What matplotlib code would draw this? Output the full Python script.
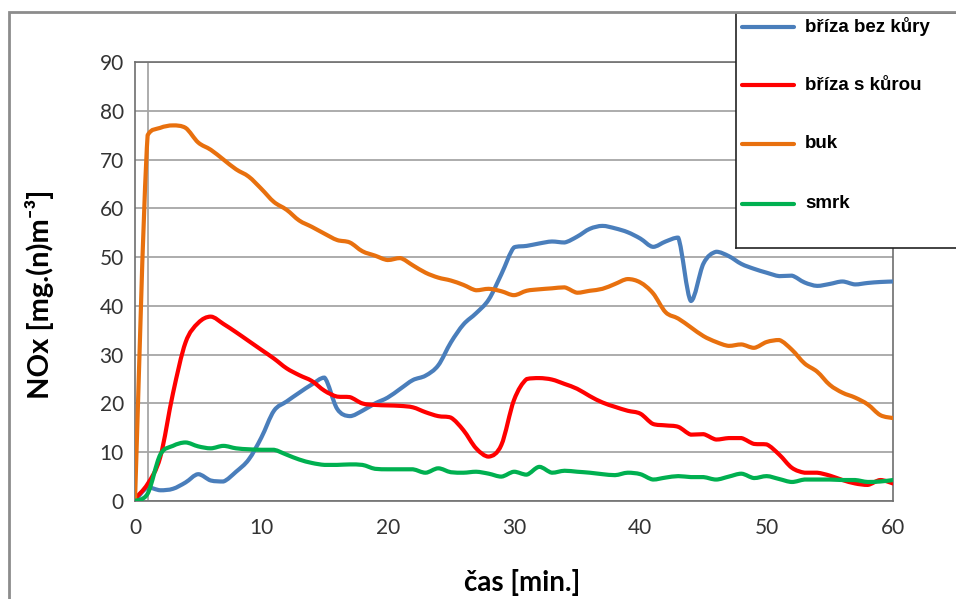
import numpy as np
import matplotlib
matplotlib.use("Agg")
import matplotlib.pyplot as plt
from matplotlib.patches import Rectangle, PathPatch
from matplotlib.path import Path
from matplotlib.lines import Line2D

# time in minutes
cas = list(range(0, 61))

briza_bez_kury = [0, 2.8, 2.2, 2.5, 3.8, 5.5, 4.2, 4.0, 6.0, 8.5,
                  13.0, 18.5, 20.4, 22.2, 23.9, 25.3, 18.9, 17.4, 18.5, 20.0,
                  21.2, 23.0, 24.8, 25.7, 27.8, 32.5, 36.2, 38.5, 41.3, 46.5,
                  52.0, 52.3, 52.8, 53.2, 53.0, 54.2, 55.8, 56.4, 55.9, 55.1,
                  53.8, 52.1, 53.2, 54.0, 41.0, 48.7, 51.1, 50.2, 48.6, 47.6,
                  46.8, 46.1, 46.2, 44.8, 44.1, 44.5, 45.0, 44.4, 44.7, 44.9,
                  45.0]
briza_s_kurou = [0.5, 3.5, 9.0, 22.0, 32.5, 36.5, 37.8, 36.3, 34.6, 32.8,
                 31.0, 29.2, 27.2, 25.8, 24.6, 22.6, 21.4, 21.3, 20.0, 19.7,
                 19.6, 19.5, 19.2, 18.2, 17.4, 17.1, 14.5, 10.8, 9.1, 11.5,
                 20.7, 25.0, 25.2, 24.9, 24.0, 23.0, 21.5, 20.2, 19.3, 18.5,
                 17.9, 15.8, 15.5, 15.2, 13.6, 13.7, 12.6, 12.9, 12.9, 11.7,
                 11.6, 9.5, 6.8, 5.8, 5.8, 5.2, 4.3, 3.6, 3.3, 4.3,
                 3.6]
buk = [0, 75.0, 76.5, 77.0, 76.5, 73.5, 72.0, 70.0, 68.0, 66.5,
       64.0, 61.3, 59.7, 57.5, 56.2, 54.8, 53.5, 53.0, 51.2, 50.3,
       49.4, 49.8, 48.3, 46.8, 45.8, 45.2, 44.3, 43.2, 43.5, 43.0,
       42.2, 43.1, 43.4, 43.6, 43.8, 42.7, 43.1, 43.5, 44.5, 45.5,
       44.8, 42.6, 38.7, 37.4, 35.6, 33.8, 32.6, 31.8, 32.1, 31.4,
       32.6, 33.0, 31.0, 28.2, 26.5, 23.8, 22.2, 21.2, 19.8, 17.6,
       17.0]
smrk = [0, 1.5, 9.5, 11.3, 12.0, 11.2, 10.8, 11.3, 10.8, 10.6,
        10.5, 10.5, 9.5, 8.5, 7.8, 7.4, 7.4, 7.5, 7.4, 6.6,
        6.5, 6.5, 6.5, 5.8, 6.7, 5.9, 5.8, 6.0, 5.6, 5.0,
        6.0, 5.4, 7.0, 5.8, 6.2, 6.0, 5.8, 5.5, 5.3, 5.8,
        5.5, 4.4, 4.8, 5.1, 4.9, 4.9, 4.4, 5.0, 5.6, 4.7,
        5.1, 4.5, 3.9, 4.4, 4.4, 4.4, 4.3, 4.3, 3.9, 4.0,
        4.3]

series = [("bříza bez kůry", briza_bez_kury, "#4A7EBB"),
          ("bříza s kůrou", briza_s_kurou, "#FF0000"),
          ("buk", buk, "#E8700E"),
          ("smrk", smrk, "#00B050")]


def smooth_path(x, y):
    # smoothed line like Excel: Bezier segments through the data points,
    # control points clamped so the curve does not overshoot
    x = np.asarray(x, float)
    y = np.asarray(y, float)
    n = len(x)
    verts = [(x[0], y[0])]
    codes = [Path.MOVETO]
    for i in range(n - 1):
        p0 = i - 1 if i > 0 else i
        p3 = i + 2 if i + 2 < n else i + 1
        lo, hi = min(y[i], y[i+1]), max(y[i], y[i+1])
        c1y = np.clip(y[i] + (y[i+1] - y[p0]) / 6, lo, hi)
        c2y = np.clip(y[i+1] - (y[p3] - y[i]) / 6, lo, hi)
        c1 = (x[i] + (x[i+1] - x[p0]) / 6, c1y)
        c2 = (x[i+1] - (x[p3] - x[i]) / 6, c2y)
        verts += [c1, c2, (x[i+1], y[i+1])]
        codes += [Path.CURVE4] * 3
    return Path(verts, codes)


plt.rcParams['font.family'] = ['Lato', 'DejaVu Sans']

fig = plt.figure(figsize=(9.56, 5.99), dpi=100)
ax = fig.add_axes([135/956, 1 - 501/599, (893-135)/956, (501-62)/599])

# outer chart border
fig.patches.append(Rectangle((9/956, -0.05), 1.1, 1 - 12/599 + 0.05,
                             transform=fig.transFigure, fill=False,
                             edgecolor="#8C8C8C", lw=2, zorder=0))

for name, vals, col in series:
    ax.add_patch(PathPatch(smooth_path(cas, vals), facecolor="none",
                           edgecolor=col, lw=3, joinstyle="round",
                           capstyle="round", zorder=3))

ax.set_xlim(0, 60)
ax.set_ylim(0, 90)
ax.set_xticks(range(0, 61, 10))
ax.set_yticks(range(0, 91, 10))
ax.yaxis.grid(True, color="#A6A6A6", lw=1.3)
ax.axvline(1, color="#A6A6A6", lw=1.3, zorder=1)
ax.set_axisbelow(True)
ax.tick_params(length=0, labelsize=15, colors="#333333", pad=8)
ax.tick_params(axis="x", pad=12)
for sp in ax.spines.values():
    sp.set_color("#6E6E6E")
    sp.set_linewidth(1.2)

fig.text(40/956, 1 - 294/599, "NOx [mg.(n)m⁻³]", rotation=90,
         fontsize=21, fontweight="bold", ha="center", va="center")
fig.text(522/956, 1 - 583/599, "čas [min.]", fontsize=20,
         fontweight="bold", ha="center", va="center")

# legend box
lax = fig.add_axes([736/956, 1 - 248/599, 0.3, (248-13)/599])
lax.set_xlim(0, 1)
lax.set_ylim(0, 1)
lax.set_xticks([])
lax.set_yticks([])
for sp in lax.spines.values():
    sp.set_color("#222222")
    sp.set_linewidth(1.2)
lax.spines["right"].set_visible(False)
ypos = [27, 85, 144, 204]
for (name, vals, col), yp in zip(series, ypos):
    yy = 1 - (yp - 13) / (248 - 13)
    x0 = (742 - 736) / (0.3*956)
    x1 = (794 - 736) / (0.3*956)
    lax.add_line(Line2D([x0, x1], [yy, yy], color=col, lw=3,
                        solid_capstyle="round"))
    lax.text((805 - 736) / (0.3*956), yy, name, fontsize=13.5,
             fontweight="bold", family=["Liberation Sans", "DejaVu Sans"],
             va="center", ha="left")

fig.savefig("out.png", dpi=100)
